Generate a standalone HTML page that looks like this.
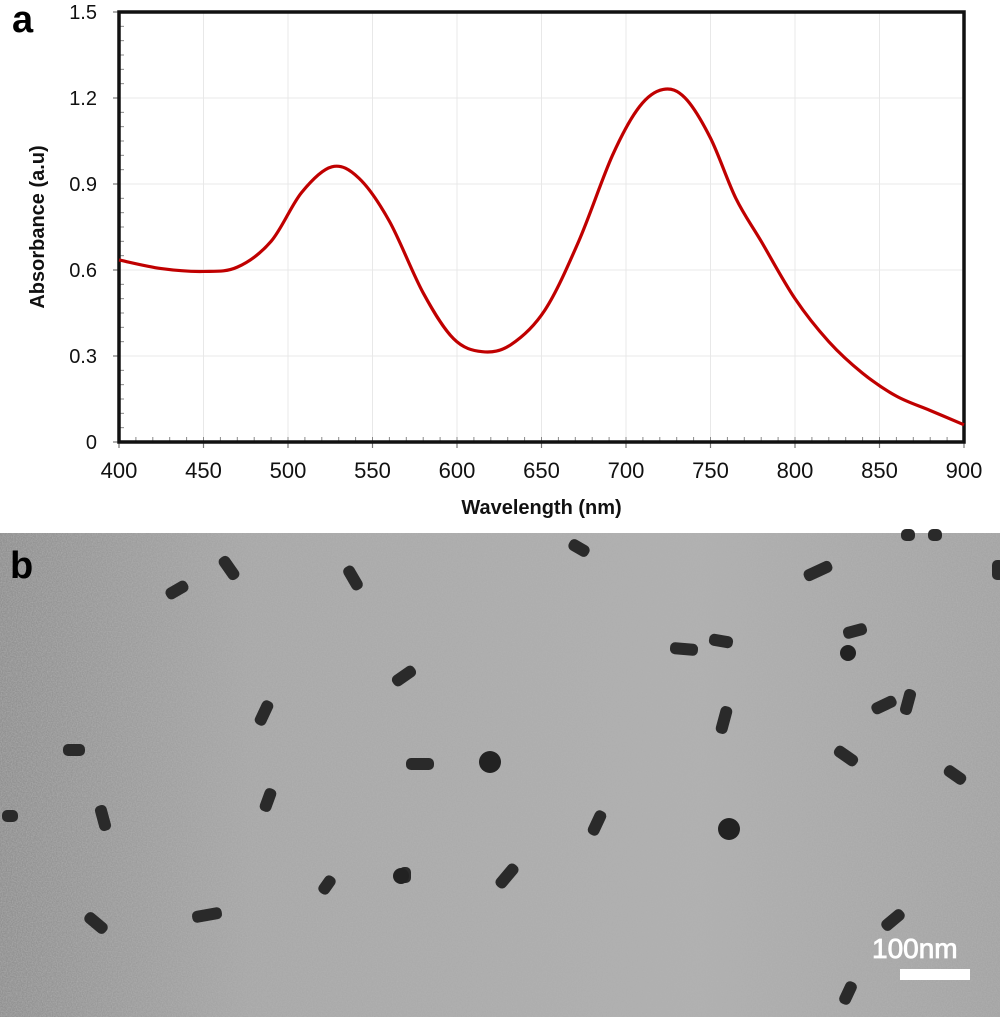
<!DOCTYPE html>
<html><head><meta charset="utf-8"><style>
body{margin:0;background:#fff;width:1000px;height:1017px;overflow:hidden;font-family:"Liberation Sans",sans-serif}
</style></head><body>
<svg width="1000" height="1017" viewBox="0 0 1000 1017">
<defs>
<filter id="noise" x="0" y="0" width="100%" height="100%">
<feTurbulence type="fractalNoise" baseFrequency="0.8" numOctaves="2" seed="3"/>
<feColorMatrix type="matrix" values="0 0 0 0 0.45  0 0 0 0 0.45  0 0 0 0 0.45  1.2 0 0 0 -0.35"/>
</filter>
<linearGradient id="vig" x1="0" x2="1" y1="0" y2="0">
<stop offset="0" stop-color="#909090"/><stop offset="0.25" stop-color="#a8a8a8"/><stop offset="0.7" stop-color="#b0b0b0"/><stop offset="1" stop-color="#a4a4a4"/>
</linearGradient>
</defs>
<text x="12" y="32" font-size="38" font-weight="bold">a</text>
<g id="chart"></g>
<g>
<rect x="0" y="533" width="1000" height="484" fill="url(#vig)"/>
<rect x="0" y="533" width="1000" height="484" filter="url(#noise)"/>
<g id="rods"></g>
<text x="10" y="578" font-size="38" font-weight="bold">b</text>
<text x="872" y="958" font-size="28" fill="#fff" stroke="#fff" stroke-width="0.8">100nm</text>
<rect x="900" y="969" width="70" height="11" fill="#fff"/>
</g>
</svg>
<script>
const wavelengths=[400,425,450,470,490,508,526,542,560,580,598,615,632,652,672,692,708,722,735,750,765,780,800,820,840,860,880,900];
const absorbance=[0.635,0.605,0.595,0.61,0.70,0.87,0.96,0.92,0.77,0.52,0.36,0.315,0.34,0.46,0.70,1.00,1.17,1.23,1.20,1.06,0.85,0.70,0.50,0.35,0.24,0.16,0.11,0.06];
const xTicks=[400,450,500,550,600,650,700,750,800,850,900];
const yTicks=[0,0.3,0.6,0.9,1.2,1.5];
const yTickLabels=["0","0.3","0.6","0.9","1.2","1.5"];
const NS="http://www.w3.org/2000/svg";
const L=119,R=964,T=12,B=442;
const xs=v=>L+(v-400)/500*(R-L);
const ys=v=>B-v/1.5*(B-T);
const g=document.getElementById('chart');
function mk(t,a,p){const e=document.createElementNS(NS,t);for(const k in a)e.setAttribute(k,a[k]);(p||g).appendChild(e);return e;}
xTicks.forEach(v=>{const x=xs(v);
 const gl=mk('line',{x1:x,x2:x,y1:T,y2:B,stroke:'#e8e8e8','stroke-width':1});
 
 
 const tl=mk('line',{x1:x,x2:x,y1:B,y2:B+6,stroke:'#777','stroke-width':1.2});
 
 
 const t=mk('text',{x:x,y:B+36,'font-size':22,'text-anchor':'middle',fill:'#111'});t.textContent=v;
 
 
});
for(let v=400;v<=900;v+=10){mk('line',{x1:xs(v),x2:xs(v),y1:B-5,y2:B,stroke:'#888','stroke-width':1});}
for(let v=0;v<=1.5;v+=0.05){mk('line',{x1:L,x2:L+5,y1:ys(v),y2:ys(v),stroke:'#888','stroke-width':1});}
yTicks.forEach((v,i)=>{const y=ys(v);
 const gl=mk('line',{x1:L,x2:R,y1:y,y2:y,stroke:'#e8e8e8','stroke-width':1});
 
 
 mk('line',{x1:L-6,x2:L,y1:y,y2:y,stroke:'#777','stroke-width':1.2});
 const t=mk('text',{x:L-22,y:y+7,'font-size':20,'text-anchor':'end',fill:'#111'});t.textContent=yTickLabels[i];
 
 
});
const fr=mk('rect',{x:L,y:T,width:R-L,height:B-T,fill:'none',stroke:'#111','stroke-width':3.5});


const pts=wavelengths.map((w,i)=>[xs(w),ys(absorbance[i])]);
let d='M'+pts[0][0]+','+pts[0][1];
for(let i=0;i<pts.length-1;i++){const p0=pts[Math.max(0,i-1)],p1=pts[i],p2=pts[i+1],p3=pts[Math.min(pts.length-1,i+2)];
 d+=` C${p1[0]+(p2[0]-p0[0])/6},${p1[1]+(p2[1]-p0[1])/6} ${p2[0]-(p3[0]-p1[0])/6},${p2[1]-(p3[1]-p1[1])/6} ${p2[0]},${p2[1]}`;}
const line=mk('path',{d:d,fill:'none',stroke:'#c00000','stroke-width':3.2});


const xt=mk('text',{x:(L+R)/2,y:514,'font-size':20,'font-weight':'bold','text-anchor':'middle',fill:'#111'});xt.textContent='Wavelength (nm)';


const yt=mk('text',{x:0,y:0,'font-size':20,'font-weight':'bold','text-anchor':'middle',fill:'#111',transform:`translate(44,${(T+B)/2}) rotate(-90)`});yt.textContent='Absorbance (a.u)';


const rods=[[177,590,24,-30],[229,568,26,55],[353,578,26,60],[579,548,22,30],[818,571,30,-25],[855,631,24,-15],[404,676,26,-35],[684,649,28,5],[721,641,24,10],[264,713,26,-65],[724,720,28,-75],[884,705,26,-25],[908,702,26,-75],[74,750,22,0],[420,764,28,0],[846,756,26,35],[955,775,24,35],[268,800,24,-70],[103,818,26,75],[10,816,16,0],[597,823,26,-65],[327,885,20,-55],[507,876,28,-50],[96,923,26,40],[207,915,30,-10],[893,920,26,-40],[848,993,24,-65],[405,875,16,90],[908,535,14,0],[935,535,14,0],[998,570,20,90]];
const dots=[[490,762,11],[729,829,11],[848,653,8],[401,876,8]];
const rg=document.getElementById('rods');
rods.forEach(r=>{const e=mk('rect',{x:-r[2]/2,y:-6,width:r[2],height:12,rx:5,fill:'#2a2a2a',transform:`translate(${r[0]},${r[1]}) rotate(${r[3]})`},rg);
 
 });
dots.forEach(c=>{const e=mk('circle',{cx:c[0],cy:c[1],r:c[2],fill:'#222'},rg);
 
 });
</script>
</body></html>
